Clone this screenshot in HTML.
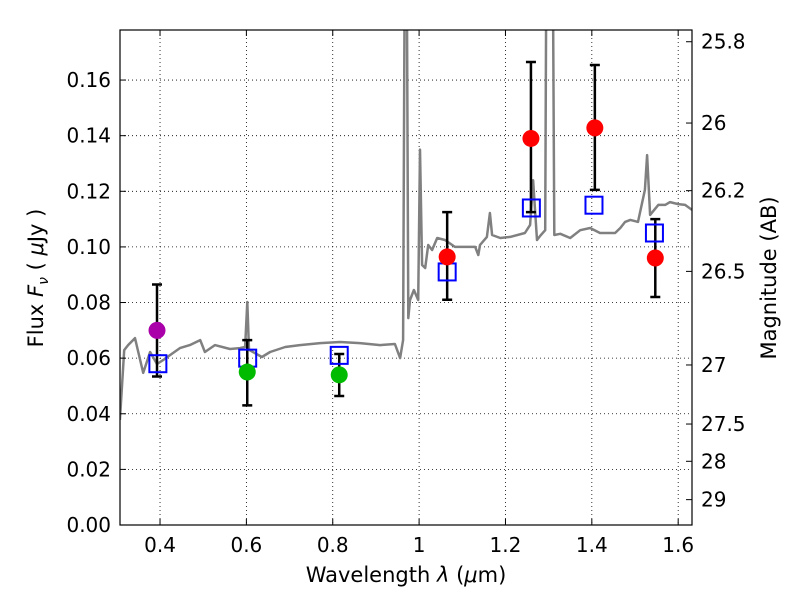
<!DOCTYPE html>
<html><head><meta charset="utf-8"><style>
body{margin:0;background:#fff;}
svg text{font-family:"DejaVu Sans","Liberation Sans",sans-serif;}
</style></head><body>
<svg id="chart" width="800" height="600" xmlns="http://www.w3.org/2000/svg">
<defs><clipPath id="pc"><rect x="120" y="30" width="572" height="495"/></clipPath></defs>
<rect width="800" height="600" fill="#fff"/>
<g id="grid"></g>
<g id="spec" clip-path="url(#pc)"></g>
<g id="marks" clip-path="url(#pc)"></g>
<rect x="120" y="30" width="572" height="495" fill="none" stroke="#000" stroke-width="1.2"/>
<g id="axes"></g>
<text x="406" y="582" font-size="21" text-anchor="middle">Wavelength  <tspan font-style="italic">λ</tspan> (<tspan font-style="italic">μ</tspan>m)</text>
<text transform="translate(43,278) rotate(-90)" font-size="21" text-anchor="middle">Flux  <tspan font-style="italic">F</tspan><tspan font-style="italic" font-size="14" dy="5">ν</tspan><tspan dy="-5">  ( </tspan><tspan font-style="italic">μ</tspan>Jy )</text>
<text transform="translate(776,278) rotate(-90)" font-size="21" text-anchor="middle">Magnitude (AB)</text>
</svg>
<script>
const specLam=[0.307,0.317,0.326,0.342,0.361,0.377,0.393,0.407,0.423,0.446,0.469,0.493,0.504,0.527,0.562,0.585,0.597,0.602,0.606,0.636,0.655,0.690,0.724,0.771,0.817,0.863,0.910,0.944,0.956,0.963,0.968,0.970,0.975,0.979,0.988,0.998,1.002,1.007,1.014,1.021,1.030,1.042,1.060,1.083,1.130,1.137,1.141,1.157,1.164,1.169,1.188,1.211,1.245,1.257,1.264,1.273,1.280,1.292,1.296,1.301,1.308,1.313,1.327,1.350,1.373,1.396,1.419,1.454,1.466,1.477,1.489,1.507,1.523,1.528,1.535,1.554,1.570,1.581,1.600,1.616,1.632];
const specFlux=[0.0378,0.0629,0.0647,0.0672,0.0547,0.0622,0.0579,0.0593,0.0611,0.0636,0.0647,0.0665,0.0622,0.0647,0.0633,0.0636,0.0640,0.0802,0.0630,0.0604,0.0622,0.0640,0.0647,0.0654,0.0658,0.0654,0.0647,0.0651,0.0600,0.0665,0.25,0.25,0.0744,0.0809,0.0845,0.0809,0.135,0.0935,0.0924,0.1007,0.0989,0.1032,0.1025,0.1000,0.1000,0.0971,0.1007,0.1036,0.1122,0.1043,0.1032,0.1036,0.1050,0.1079,0.124,0.1025,0.1039,0.1060,0.25,0.25,0.25,0.1043,0.1047,0.1032,0.1060,0.1068,0.1050,0.1050,0.1068,0.1090,0.1097,0.1090,0.1205,0.133,0.1115,0.1151,0.1151,0.1161,0.1154,0.1151,0.1133];
const photLam=[0.393,0.602,0.815,1.065,1.259,1.407,1.547];
const photFlux=[0.070,0.055,0.054,0.0964,0.139,0.1428,0.096];
const photErrLo=[0.0166,0.012,0.0076,0.0154,0.0265,0.0223,0.014];
const photErrHi=[0.0165,0.0115,0.0075,0.0161,0.0275,0.0226,0.014];
const photColor=["#aa00aa","#00bb00","#00bb00","#ff0000","#ff0000","#ff0000","#ff0000"];
const modelLam=[0.395,0.603,0.815,1.065,1.26,1.405,1.545];
const modelFlux=[0.058,0.060,0.061,0.091,0.114,0.115,0.105];
const xTicks=[0.4,0.6,0.8,1.0,1.2,1.4,1.6];
const xTickLabels=["0.4","0.6","0.8","1","1.2","1.4","1.6"];
const yTicks=[0,0.02,0.04,0.06,0.08,0.10,0.12,0.14,0.16];
const yTickLabels=["0.00","0.02","0.04","0.06","0.08","0.10","0.12","0.14","0.16"];
const magTicks=[25.8,26,26.2,26.5,27,27.5,28,29];
const magTickLabels=["25.8","26","26.2","26.5","27","27.5","28","29"];

const L=120,R=692,T=30,B=525,X0=0.3073,X1=1.632,Y0=0,Y1=0.178;
const sx=v=>L+(v-X0)/(X1-X0)*(R-L);
const sy=v=>B-(v-Y0)/(Y1-Y0)*(B-T);
const NS="http://www.w3.org/2000/svg";
function mk(p,t,a){const e=document.createElementNS(NS,t);for(const k in a)e.setAttribute(k,a[k]);p.appendChild(e);return e;}
const grid=document.getElementById('grid'),axes=document.getElementById('axes'),spec=document.getElementById('spec'),marks=document.getElementById('marks');
xTicks.forEach((v,i)=>{const x=sx(v);
 let g=mk(grid,'line',{x1:x,x2:x,y1:T,y2:B,stroke:'#000','stroke-width':0.8,'stroke-dasharray':'1,3'});
 
 mk(axes,'line',{x1:x,x2:x,y1:B,y2:B-6,stroke:'#000'});mk(axes,'line',{x1:x,x2:x,y1:T,y2:T+6,stroke:'#000'});
 let t=mk(axes,'text',{x:x,y:B+27,'font-size':20,'text-anchor':'middle'});t.textContent=xTickLabels[i];
 });
yTicks.forEach((v,i)=>{const y=sy(v);
 let g=mk(grid,'line',{x1:L,x2:R,y1:y,y2:y,stroke:'#000','stroke-width':0.8,'stroke-dasharray':'1,3'});
 
 mk(axes,'line',{x1:L,x2:L+6,y1:y,y2:y,stroke:'#000'});
 let t=mk(axes,'text',{x:L-9,y:y+7,'font-size':20,'text-anchor':'end'});t.textContent=yTickLabels[i];
 });
magTicks.forEach((m,i)=>{const y=sy(Math.pow(10,(23.9-m)/2.5));
 mk(axes,'line',{x1:R,x2:R-6,y1:y,y2:y,stroke:'#000'});
 let t=mk(axes,'text',{x:R+9,y:y+7,'font-size':20});t.textContent=magTickLabels[i];
 });
let d=specLam.map((l,i)=>(i?'L':'M')+sx(l).toFixed(1)+','+sy(specFlux[i]).toFixed(1)).join(' ');
let sp=mk(spec,'path',{d:d,fill:'none',stroke:'#808080','stroke-width':2.5,'stroke-linejoin':'round'});

photLam.forEach((l,i)=>{const x=sx(l),y1=sy(photFlux[i]+photErrHi[i]),y2=sy(photFlux[i]-photErrLo[i]);
 let e=mk(marks,'path',{d:`M${x},${y1}V${y2}M${x-5},${y1}H${x+5}M${x-5},${y2}H${x+5}`,stroke:'#000','stroke-width':2.5,fill:'none'});
 });
modelLam.forEach((l,i)=>{const x=sx(l),y=sy(modelFlux[i]);
 let r=mk(marks,'rect',{x:x-8.5,y:y-8.5,width:17,height:17,fill:'none',stroke:'#0000ff','stroke-width':2});
 });
photLam.forEach((l,i)=>{
 let c=mk(marks,'circle',{cx:sx(l),cy:sy(photFlux[i]),r:8.5,fill:photColor[i]});
 });
</script>
</body></html>
